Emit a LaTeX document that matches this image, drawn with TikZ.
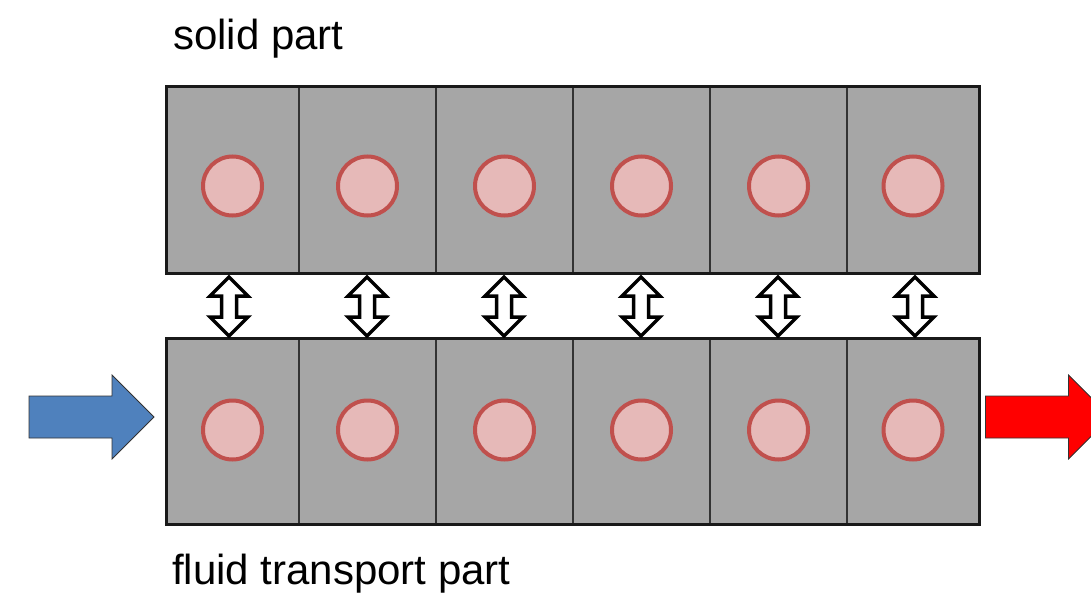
\documentclass[tikz,border=0pt]{standalone}
\usepackage{fontspec}
\setmainfont{Liberation Sans}
\begin{document}
\begin{tikzpicture}[x=1pt,y=-1pt,
  cellbox/.style={fill=cellgray,draw=divgray,line width=1.5pt},
  outerbox/.style={draw=black!90,line width=3pt},
  dot/.style={circle,fill=dotfill,draw=dotline,line width=4pt,minimum size=59pt,inner sep=0pt},
  dblarrow/.style={fill=white,draw=black,line width=3.5pt,line join=miter},
  flowarrow/.style={draw=black!80,line width=0.8pt,line join=miter},
  lbl/.style={anchor=base west,inner sep=0pt,font=\fontsize{42}{50}\selectfont}]
\definecolor{cellgray}{HTML}{A6A6A6}
\definecolor{divgray}{HTML}{333333}
\definecolor{dotfill}{HTML}{E6B9B8}
\definecolor{dotline}{HTML}{C0504D}
\definecolor{blueflow}{HTML}{4F81BD}
\useasboundingbox (0,0) rectangle (1091,599);
\clip (0,0) rectangle (1091,599);
% cells
\foreach \r/\ya/\yb/\yc in {top/87/273/186, bot/338/524/430}{
  \foreach \i/\xa/\xb in {1/166/299, 2/299/436, 3/436/573, 4/573/710, 5/710/847, 6/847/979}{
    \path[cellbox] (\xa,\ya) rectangle (\xb,\yb);
    \node[dot] (c\r\i) at ({(\xa+\xb)/2},\yc) {};
  }
  \draw[outerbox] (166,\ya) rectangle (979,\yb);
}
% double arrows
\foreach \i/\x in {1/229, 2/367, 3/504, 4/641, 5/778, 6/915}{
  \coordinate (dt\i) at (\x,277);
  \coordinate (db\i) at (\x,336);
  \draw[dblarrow] (dt\i) -- ++(19,19) -- ++(-11.5,0) -- ++(0,21) -- ++(11.5,0) -- (db\i)
    -- ++(-19,-19) -- ++(11.5,0) -- ++(0,-21) -- ++(-11.5,0) -- cycle;
}
% flow arrows
\coordinate (inflow) at (29,396);
\coordinate (outflow) at (985.5,396);
\draw[flowarrow,fill=blueflow] (inflow) -- ++(83,0) -- ++(0,-21) -- ++(42,42) -- ++(-42,42) -- ++(0,-21) -- ++(-83,0) -- cycle;
\draw[flowarrow,fill=red] (outflow) -- ++(83,0) -- ++(0,-21) -- ++(42,42) -- ++(-42,42) -- ++(0,-21) -- ++(-83,0) -- cycle;
% labels
\node[lbl] (solid) at (173,50) {solid part};
\node[lbl] (fluid) at (172,584) {fluid transport part};
\end{tikzpicture}
\end{document}
